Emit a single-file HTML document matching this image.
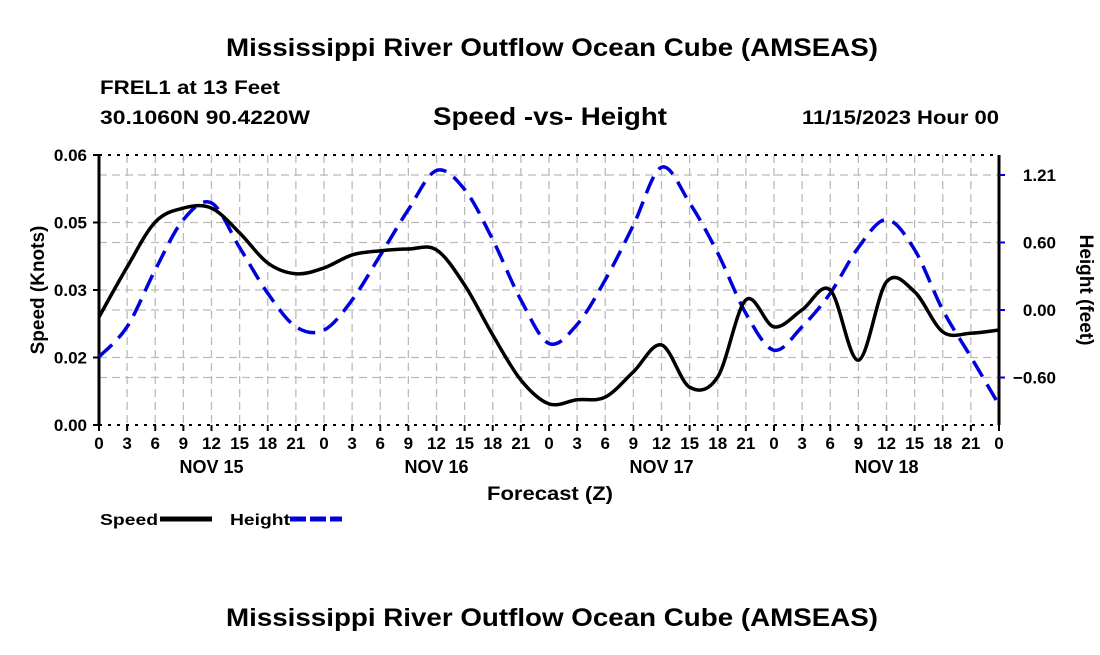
<!DOCTYPE html>
<html><head><meta charset="utf-8"><style>
body{margin:0;background:#fff;width:1100px;height:650px;overflow:hidden}
svg text{font-family:"Liberation Sans",Arial,sans-serif;font-weight:bold;fill:#000}
</style></head><body>
<svg id="c" width="1100" height="650">
<text x="226" y="56" font-size="25" textLength="652" lengthAdjust="spacingAndGlyphs">Mississippi River Outflow Ocean Cube (AMSEAS)</text>
<text x="100" y="94" font-size="19" textLength="180" lengthAdjust="spacingAndGlyphs">FREL1 at 13 Feet</text>
<text x="100" y="124" font-size="19" textLength="210" lengthAdjust="spacingAndGlyphs">30.1060N  90.4220W</text>
<text x="433" y="125" font-size="25" textLength="234" lengthAdjust="spacingAndGlyphs">Speed -vs- Height</text>
<text x="802" y="124" font-size="19" textLength="197" lengthAdjust="spacingAndGlyphs">11/15/2023 Hour 00</text>
<g id="grid"></g><g id="axes"></g><g id="series"></g>
<text x="487" y="500" font-size="19" textLength="126" lengthAdjust="spacingAndGlyphs">Forecast (Z)</text>
<text transform="translate(44,290) rotate(-90)" text-anchor="middle" font-size="19">Speed (Knots)</text>
<text transform="translate(1080,290) rotate(90)" text-anchor="middle" font-size="19">Height (feet)</text>
<g>
<text x="100" y="525" font-size="16" textLength="58" lengthAdjust="spacingAndGlyphs">Speed</text>
<line x1="160" y1="519" x2="212" y2="519" stroke="#000" stroke-width="5"/>
<text x="230" y="525" font-size="16" textLength="60" lengthAdjust="spacingAndGlyphs">Height</text>
<line x1="290" y1="519" x2="342" y2="519" stroke="#0000dd" stroke-width="5" stroke-dasharray="16,4"/>
</g>
<text x="226" y="626" font-size="25" textLength="652" lengthAdjust="spacingAndGlyphs">Mississippi River Outflow Ocean Cube (AMSEAS)</text>
</svg>
<script>
const hours=[0,3,6,9,12,15,18,21,24,27,30,33,36,39,42,45,48,51,54,57,60,63,66,69,72,75,78,81,84,87,90,93,96];
const speed=[0.0240,0.0351,0.0451,0.0482,0.0482,0.0427,0.0360,0.0336,0.0349,0.0378,0.0387,0.0391,0.0389,0.0311,0.0200,0.0100,0.0047,0.0056,0.0062,0.0118,0.0178,0.0084,0.0107,0.0278,0.0218,0.0256,0.0300,0.0144,0.0318,0.0296,0.0207,0.0204,0.0211];
const height=[-0.42,-0.15,0.36,0.81,0.96,0.56,0.15,-0.15,-0.18,0.09,0.49,0.90,1.25,1.08,0.63,0.09,-0.30,-0.13,0.27,0.76,1.28,0.96,0.51,-0.03,-0.36,-0.15,0.15,0.56,0.81,0.54,0.00,-0.42,-0.85];
const leftTicks=[0,0.015,0.03,0.045,0.06];
const leftLabels=["0.00","0.02","0.03","0.05","0.06"];
const rightTicks=[-0.605,0,0.605,1.21];
const rightLabels=["\u22120.60","0.00","0.60","1.21"];
const dayLabels=["NOV 15","NOV 16","NOV 17","NOV 18"];
const X0=99,X1=999,Y0=425,Y1=155;
const xs=h=>X0+(X1-X0)*h/96;
const ys=v=>Y0-(Y0-Y1)*v/0.06;
const yh=v=>310-v*67.5/0.605;
const NS="http://www.w3.org/2000/svg";
function mk(parent,tag,attrs){const e=document.createElementNS(NS,tag);for(const k in attrs)e.setAttribute(k,attrs[k]);document.getElementById(parent).appendChild(e);return e;}
for(let h=3;h<96;h+=3){const e=mk('grid','line',{x1:xs(h),x2:xs(h),y1:Y1,y2:Y0,stroke:'#bbb','stroke-width':1.3,'stroke-dasharray':'8,5'});

}
leftTicks.slice(1,4).forEach(v=>{const e=mk('grid','line',{x1:X0,x2:X1,y1:ys(v),y2:ys(v),stroke:'#bbb','stroke-width':1.3,'stroke-dasharray':'8,5'});

});
rightTicks.forEach(v=>{const e=mk('grid','line',{x1:X0,x2:X1,y1:yh(v),y2:yh(v),stroke:'#bbb','stroke-width':1.3,'stroke-dasharray':'8,5'});

});
let a=mk('axes','line',{x1:X0,x2:X1,y1:Y1,y2:Y1,stroke:'#000','stroke-width':2,'stroke-dasharray':'3,6'});


a=mk('axes','line',{x1:X0,x2:X1,y1:Y0,y2:Y0,stroke:'#000','stroke-width':2,'stroke-dasharray':'3,6'});


a=mk('axes','line',{x1:X0,x2:X0,y1:Y1,y2:Y0,stroke:'#000','stroke-width':3});


a=mk('axes','line',{x1:X1,x2:X1,y1:Y1,y2:Y0,stroke:'#000','stroke-width':3});


leftTicks.forEach((v,i)=>{const t=mk('axes','line',{x1:X0-6,x2:X0,y1:ys(v),y2:ys(v),stroke:'#000','stroke-width':2});


const l=mk('axes','text',{x:X0-12,y:ys(v)+6,'text-anchor':'end','font-size':17});l.textContent=leftLabels[i];

});
rightTicks.forEach((v,i)=>{const t=mk('axes','line',{x1:X1,x2:X1+6,y1:yh(v),y2:yh(v),stroke:'#0000dd','stroke-width':2});


const l=mk('axes','text',{x:X1+57,y:yh(v)+6,'text-anchor':'end','font-size':17});l.textContent=rightLabels[i];

});
for(let h=0;h<=96;h+=3){const t=mk('axes','line',{x1:xs(h),x2:xs(h),y1:Y0,y2:Y0+6,stroke:'#000','stroke-width':2});


const l=mk('axes','text',{x:xs(h),y:Y0+24,'text-anchor':'middle','font-size':17});l.textContent=String(h%24);

}
dayLabels.forEach((d,i)=>{const l=mk('axes','text',{x:xs(i*24+12),y:Y0+48,'text-anchor':'middle','font-size':18});l.textContent=d;

});
function path(pts){let d='M'+pts[0][0]+','+pts[0][1];for(let i=0;i<pts.length-1;i++){const p0=pts[Math.max(0,i-1)],p1=pts[i],p2=pts[i+1],p3=pts[Math.min(pts.length-1,i+2)];
d+=' C'+(p1[0]+(p2[0]-p0[0])/6)+','+(p1[1]+(p2[1]-p0[1])/6)+' '+(p2[0]-(p3[0]-p1[0])/6)+','+(p2[1]-(p3[1]-p1[1])/6)+' '+p2[0]+','+p2[1];}return d;}
let s=mk('series','path',{d:path(hours.map((h,i)=>[xs(h),yh(height[i])])),fill:'none',stroke:'#0000dd','stroke-width':3.5,'stroke-dasharray':'18,9'});


s=mk('series','path',{d:path(hours.map((h,i)=>[xs(h),ys(speed[i])])),fill:'none',stroke:'#000','stroke-width':3.5});


</script>
</body></html>
